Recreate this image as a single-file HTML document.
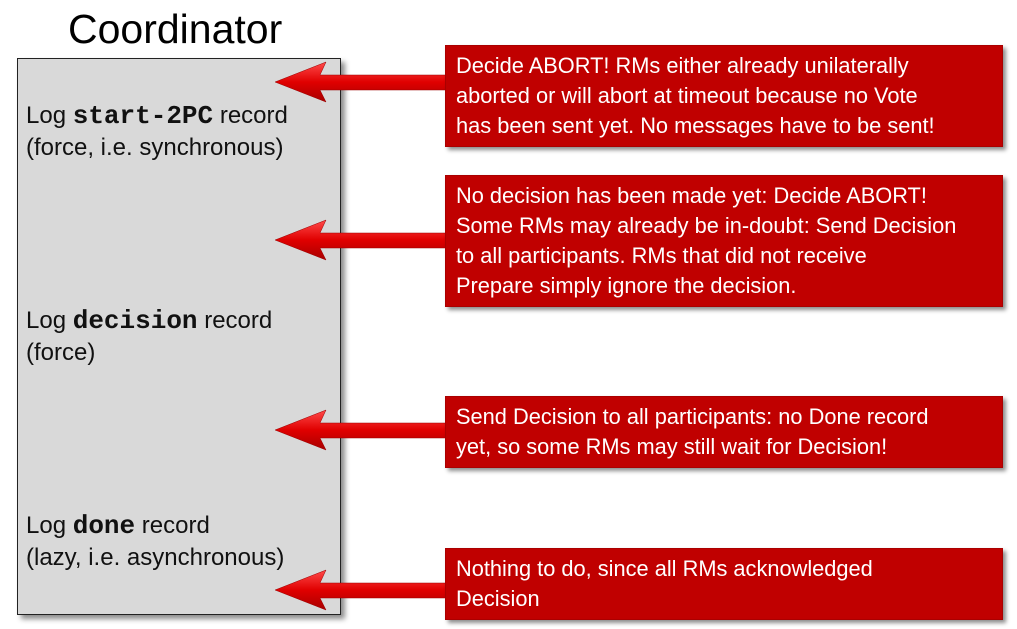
<!DOCTYPE html>
<html><head><style>
body{margin:0;width:1017px;height:629px;background:#fff;position:relative;overflow:hidden;font-family:"Liberation Sans",sans-serif}
.t{position:absolute;left:68px;top:6px;font-size:41px;color:#000}
.box{position:absolute;left:17px;top:58px;width:322px;height:555px;background:#d9d9d9;border:1.5px solid #222;box-shadow:4px 4px 5px rgba(0,0,0,.45)}
.l{position:absolute;left:26px;font-size:24px;line-height:32px;color:#111;white-space:nowrap}
.l b{font-family:"Liberation Mono",monospace;font-size:26px}
.r{position:absolute;left:445px;width:540px;background:#c00000;color:#fff;font-size:21.8px;line-height:30px;padding:5px 6px 5px 10px;box-shadow:3px 3px 4px rgba(0,0,0,.45);border:1px solid #a00;white-space:nowrap}
svg{position:absolute;left:0;top:0}
</style></head><body>
<div class="t">Coordinator</div>
<div class="box"></div>
<div class="l" style="top:100px">Log <b>start-2PC</b> record<br>(force, i.e. synchronous)</div>
<div class="l" style="top:305px">Log <b>decision</b> record<br>(force)</div>
<div class="l" style="top:510px">Log <b>done</b> record<br>(lazy, i.e. asynchronous)</div>
<svg width="1017" height="629">
<defs><linearGradient id="g" x1="0" y1="0" x2="0" y2="1"><stop offset="0" stop-color="#ff4a4a"/><stop offset=".5" stop-color="#e00000"/><stop offset="1" stop-color="#a80000"/></linearGradient></defs>
<g fill="url(#g)" stroke="#900" stroke-width=".5">
<path d="M275,82 L326,62 L320,75 L450,75 L450,90 L320,90 L326,102 Z"/>
<path d="M275,240 L326,220 L320,233 L450,233 L450,248 L320,248 L326,260 Z"/>
<path d="M275,430 L326,410 L320,423 L450,423 L450,438 L320,438 L326,450 Z"/>
<path d="M275,590 L326,570 L320,583 L450,583 L450,598 L320,598 L326,610 Z"/>
</g>
</svg>
<div class="r" style="top:45px">Decide ABORT! RMs either already unilaterally<br>aborted or will abort at timeout because no Vote<br>has been sent yet. No messages have to be sent!</div>
<div class="r" style="top:175px">No decision has been made yet: Decide ABORT!<br>Some RMs may already be in-doubt: Send Decision<br>to all participants. RMs that did not receive<br>Prepare simply ignore the decision.</div>
<div class="r" style="top:396px">Send Decision to all participants: no Done record<br>yet, so some RMs may still wait for Decision!</div>
<div class="r" style="top:548px">Nothing to do, since all RMs acknowledged<br>Decision</div>
</body></html>
